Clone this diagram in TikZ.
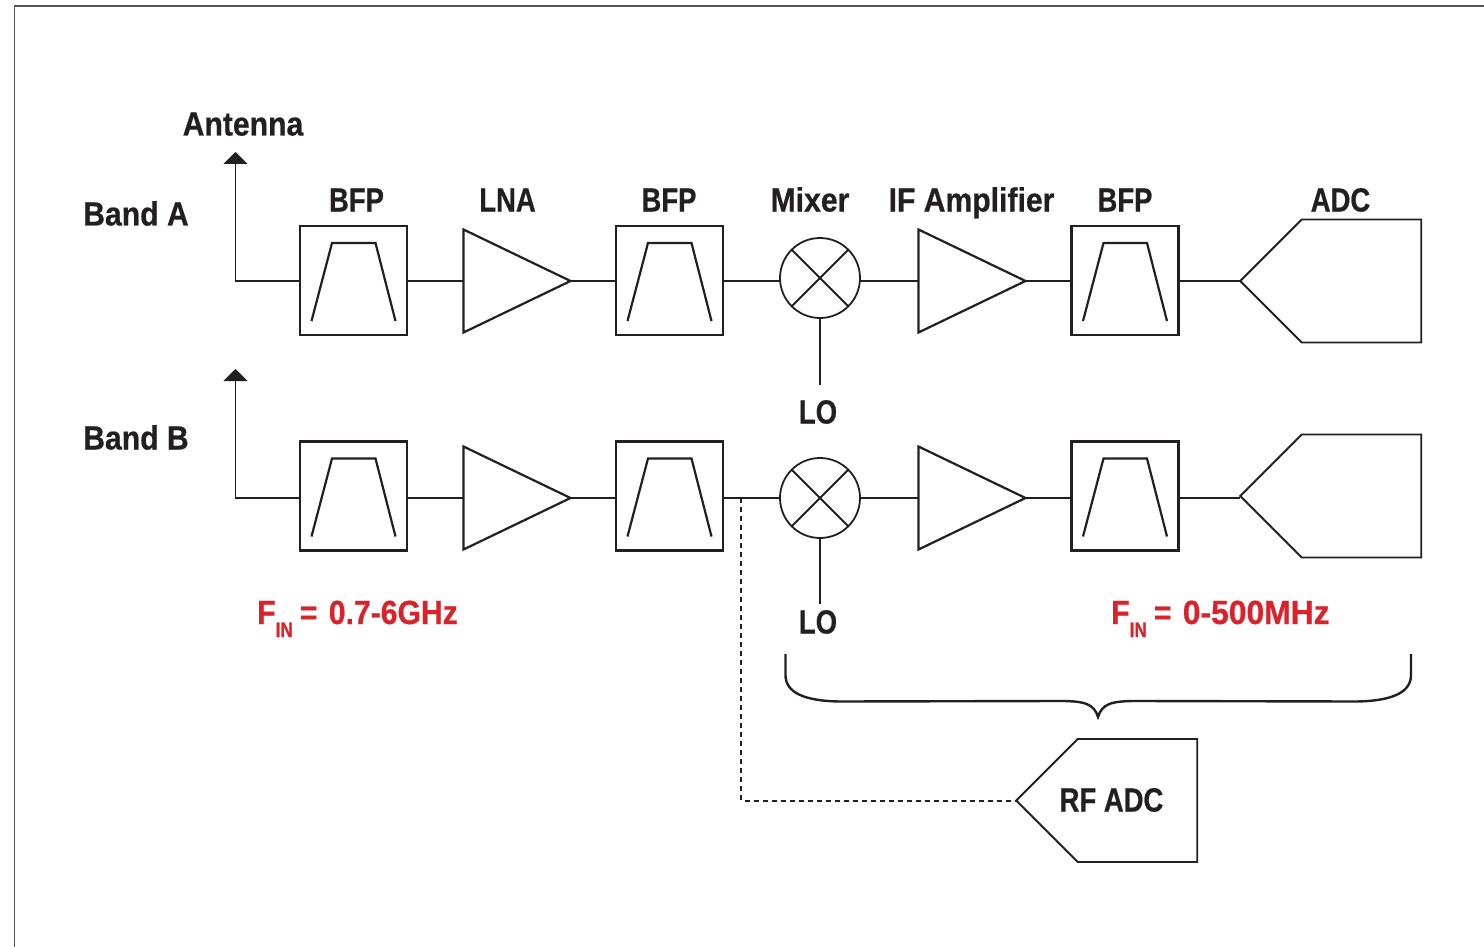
\documentclass[tikz,border=0pt]{standalone}
\usepackage{fontspec}
\newfontfamily\lbl[FakeStretch=0.90,FakeBold=0.6]{Liberation Sans Bold}
\newfontfamily\lblw[FakeStretch=0.95,FakeBold=0.6]{Liberation Sans Bold}
\newfontfamily\lblcaps[FakeStretch=0.82,FakeBold=0.6]{Liberation Sans Bold}
\usetikzlibrary{shapes.geometric,shapes.symbols,arrows.meta}
\definecolor{ink}{HTML}{231F20}
\definecolor{redlbl}{HTML}{D9222A}
\definecolor{framec}{HTML}{555555}
\newcommand{\finlabel}[1]{F\raisebox{-13pt}{\lblcaps\fontsize{21}{21}\selectfont IN}\hspace{7pt}=\hspace{3pt} #1}
\tikzset{
  wire/.style={draw=ink,line width=1.8pt},
  thinwire/.style={draw=ink,line width=1.1pt},
  dashwire/.style={draw=ink,line width=2pt,dash pattern=on 5pt off 4pt},
  antenna/.style={wire,-{Triangle[width=24pt,length=12pt]}},
  filterbox/.style={draw=ink,line width=2.6pt,rectangle,minimum width=107pt,minimum height=109pt,inner sep=0pt,outer sep=0pt},
  passband/.style={draw=ink,line width=2.2pt},
  amp/.style={draw=ink,line width=2.2pt,isosceles triangle,isosceles triangle stretches,shape border rotate=0,minimum height=107pt,minimum width=103pt,inner sep=0pt,outer sep=0pt,anchor=lower side},
  mixer/.style={draw=ink,line width=1.8pt,circle,minimum size=80pt,inner sep=0pt,outer sep=0pt},
  adc/.style={draw=ink,line width=1.8pt,signal,signal to=west,signal from=nowhere,signal pointer angle=90,minimum width=181pt,minimum height=123pt,inner sep=0pt,outer sep=0pt},
  txt/.style={font=\lbl\fontsize{33.5}{33.5}\selectfont,text=ink,inner sep=0pt,anchor=base},
  capstxt/.style={font=\lblcaps\fontsize{33.5}{33.5}\selectfont,text=ink,inner sep=0pt,anchor=base},
  redtxt/.style={font=\lbl\fontsize{33.5}{33.5}\selectfont,text=redlbl,inner sep=0pt,anchor=base west},
  brace/.style={draw=ink,line width=2.4pt},
  framel/.style={draw=framec,line width=1.5pt}
}
\begin{document}
\begin{tikzpicture}[x=1pt,y=-1pt]
\useasboundingbox (0,0) rectangle (1484,947);
\draw[framel] (14.5,947) -- (14.5,6) -- (1484,6);

% wire levels and antenna ends
\coordinate (wa) at (0,281);
\coordinate (wb) at (0,498);
\coordinate (anta) at (235.5,152);
\coordinate (antb) at (235.5,369);
\coordinate (tap) at (741,498);

% Band A
\node[filterbox] (a1) at (353.5,280.5) {};
\node[amp] (a2) at (463.5,281) {};
\node[filterbox] (a3) at (669.5,280.5) {};
\node[mixer] (a4) at (820,278) {};
\node[amp] (a5) at (918.5,281) {};
\node[filterbox] (a6) at (1125,280.5) {};
\node[adc] (a7) at (1361.5,281) {};
% Band B
\node[filterbox] (b1) at (353.5,496) {};
\node[amp] (b2) at (463.5,498) {};
\node[filterbox] (b3) at (669.5,496) {};
\node[mixer] (b4) at (820,498) {};
\node[amp] (b5) at (918.5,498) {};
\node[filterbox] (b6) at (1125,496) {};
\node[adc] (b7) at (1361.5,496) {};
% RF ADC
\node[adc] (rf) at (1137.5,800.5) {};

% passbands
\foreach \b in {a1,a3,a6,b1,b3,b6}
  \draw[passband] ([shift={(-42,40.5)}]\b.center) -- ([shift={(-21.5,-37.5)}]\b.center) -- ([shift={(22,-37.5)}]\b.center) -- ([shift={(42,40.5)}]\b.center);
% mixer crosses
\foreach \m in {a4,b4} {
  \draw[wire] (\m.north west) -- (\m.south east);
  \draw[wire] (\m.north east) -- (\m.south west);
}

% texts
\node[txt] (tant) at (243,135.5) {Antenna};
\node[txt] (tbanda) at (136,225.5) {Band A};
\node[txt] (tbandb) at (136,449.5) {Band B};
\node[capstxt] (t1) at (356.5,211.5) {BFP};
\node[capstxt] (t2) at (507.5,211.5) {LNA};
\node[capstxt] (t3) at (669,211.5) {BFP};
\node[txt] (t4) at (810,211.5) {Mixer};
\node[txt] (t5) at (971.5,211.5) {IF Amplifier};
\node[capstxt] (t6) at (1125,211.5) {BFP};
\node[capstxt] (t7) at (1340.5,211.5) {ADC};
\node[capstxt] (loa) at (818,423.5) {LO};
\node[capstxt] (lob) at (818,633.5) {LO};
\node[capstxt] (trf) at (1111.5,811.5) {RF ADC};
\node[redtxt] (fa) at (257,624) {\finlabel{0.7-6GHz}};
\node[redtxt] (fb) at (1111,624) {\finlabel{{\lblw 0-500MHz}}};

% connectors Band A
\draw[antenna] (wa -| a1.west) -- (wa -| anta) -- (anta);
\draw[wire] (wa -| a1.east) -- (a2.lower side);
\draw[wire] (a2.apex) -- (wa -| a3.west);
\draw[wire] (wa -| a3.east) -- (wa -| a4.west);
\draw[wire] (wa -| a4.east) -- (a5.lower side);
\draw[wire] (a5.apex) -- (wa -| a6.west);
\draw[wire] (wa -| a6.east) -- (a7.west);
\draw[thinwire] (a4.south) -- (a4.south |- 0,385);
% connectors Band B
\draw[antenna] (wb -| b1.west) -- (wb -| antb) -- (antb);
\draw[wire] (wb -| b1.east) -- (b2.lower side);
\draw[wire] (b2.apex) -- (wb -| b3.west);
\draw[wire] (wb -| b3.east) -- (b4.west);
\draw[wire] (b4.east) -- (b5.lower side);
\draw[wire] (b5.apex) -- (wb -| b6.west);
\draw[wire] (wb -| b6.east) -- (wb -| b7.west);
\draw[thinwire] (b4.south) -- (b4.south |- 0,604);
% RF tap
\draw[dashwire] (tap) -- (tap |- rf.west) -- (rf.west);

% brace
\draw[brace] (785.5,654) -- (785.5,675) .. controls (785.5,692) and (803,701) .. (840,701.5)
  -- (1060,701) .. controls (1085,701) and (1094,704) .. (1098,717)
  .. controls (1102,704) and (1111,701) .. (1136,701)
  -- (1356,701.5) .. controls (1393,701) and (1411,692) .. (1411,675) -- (1411,654);
\end{tikzpicture}
\end{document}
